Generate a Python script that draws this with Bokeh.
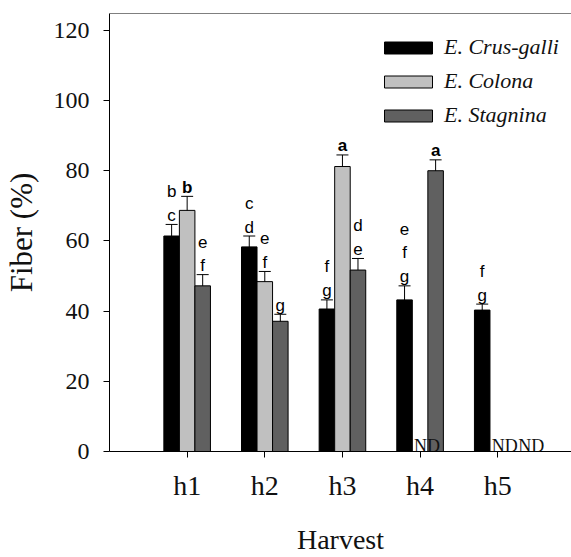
from bokeh.plotting import figure
from bokeh.models import (Range1d, FixedTicker, Whisker, ColumnDataSource, Legend,
                          LegendItem, Span, TeeHead)
from bokeh.core.properties import value
from bokeh.embed import file_html
from bokeh.resources import INLINE

# ---------------- data ----------------
harvests = ["h1", "h2", "h3", "h4", "h5"]
series_names = ["E. Crus-galli", "E. Colona", "E. Stagnina"]
crus_galli = [61.4, 58.3, 40.6, 43.2, 40.3]
crus_galli_err = [3.3, 3.1, 2.6, 4.0, 1.7]
colona = [68.7, 48.4, 81.2, None, None]
colona_err = [4.0, 2.9, 3.3, None, None]
stagnina = [47.2, 37.1, 51.7, 80.0, None]
stagnina_err = [3.2, 2.0, 3.3, 3.1, None]
# significance letters (top to bottom)
crus_galli_letters = ["bc", "cd", "fg", "efg", "fg"]
colona_letters = ["b", "ef", "a", "", ""]
stagnina_letters = ["ef", "g", "de", "a", ""]
colona_bold = [True, False, True, False, False]
stagnina_bold = [False, False, False, True, False]
crus_galli_bold = [False, False, False, False, False]
y_ticks = [0, 20, 40, 60, 80, 100, 120]

values = [crus_galli, colona, stagnina]
errors = [crus_galli_err, colona_err, stagnina_err]
letters = [crus_galli_letters, colona_letters, stagnina_letters]
bolds = [crus_galli_bold, colona_bold, stagnina_bold]
colors = ["#000000", "#c0c0c0", "#606060"]
offsets = [-0.2, 0.0, 0.2]
nd_xoff = [0, 7, 18]
BAR_W = 0.2

p = figure(width=571, height=557, output_backend="svg", toolbar_location=None,
           x_range=Range1d(0.0, 5.95), y_range=Range1d(0, 124.8))
p.min_border_left = 107
p.min_border_top = 13
p.min_border_right = 0
p.min_border_bottom = 104
p.outline_line_color = None
p.xgrid.visible = False
p.ygrid.visible = False
p.background_fill_color = "white"
p.border_fill_color = "white"

# top border of frame
p.add_layout(Span(location=124.8, dimension="width", line_color="black", line_width=1))

legend_items = []
nd_sets = []
for i in range(3):
    xs, tops, ups, lows = [], [], [], []
    tx, ty, tt, toff, tstyle = [], [], [], [], []
    ndx = []
    for j, v in enumerate(values[i]):
        x = j + 1 + offsets[i]
        if v is None:
            ndx.append(x)
            continue
        e = errors[i][j]
        xs.append(x); tops.append(v); ups.append(v + e); lows.append(v - e)
        lt = letters[i][j]
        n = len(lt)
        for k, ch in enumerate(lt):
            level = n - 1 - k
            tx.append(x); ty.append(v + e); tt.append(ch)
            toff.append(-(9 + 24 * level))
            tstyle.append("bold" if bolds[i][j] else "normal")
    src = ColumnDataSource(dict(x=xs, top=tops, upper=ups, lower=lows))
    r = p.vbar(x="x", top="top", bottom=0, width=BAR_W, source=src,
               fill_color=colors[i], line_color="black", line_width=1)
    legend_items.append(LegendItem(label=series_names[i], renderers=[r]))
    w = Whisker(base="x", upper="upper", lower="lower", source=src, dimension="height",
                line_color="black", line_width=1,
                upper_head=TeeHead(size=12, line_color="black", line_width=1),
                lower_head=TeeHead(size=12, line_color="black", line_width=1))
    p.add_layout(w)
    tsrc = ColumnDataSource(dict(x=tx, y=ty, text=tt, yo=toff, fs=tstyle))
    p.text(x="x", y="y", text="text", y_offset="yo", text_font_style="fs", source=tsrc,
           text_font=value("Liberation Sans"), text_font_size="17px",
           text_align="center", text_baseline="alphabetic", text_color="#000000")
    if ndx:
        nd_sets.append((ndx, nd_xoff[i]))

# "ND" labels drawn after all bars
for ndx, xo in nd_sets:
    p.text(x=ndx, y=[0] * len(ndx), text=["ND"] * len(ndx), x_offset=xo,
           y_offset=-6, text_font=value("Liberation Serif"), text_font_size="18px",
           text_align="center", text_baseline="alphabetic", text_color="#111111")

legend = Legend(items=legend_items, location=(269, 323), padding=0, margin=0,
                spacing=8, glyph_width=60, glyph_height=15, label_standoff=6,
                label_text_font="Liberation Serif", label_text_font_size="22px",
                label_text_font_style="italic", label_text_color="#111111",
                border_line_color=None, background_fill_alpha=0)
p.add_layout(legend)

# axes
p.xaxis.ticker = FixedTicker(ticks=[1, 2, 3, 4, 5])
p.xaxis.major_label_overrides = {j + 1: h for j, h in enumerate(harvests)}
p.yaxis.ticker = FixedTicker(ticks=y_ticks)
for ax in (p.xaxis, p.yaxis):
    ax.major_tick_in = 0
    ax.major_tick_out = 6
    ax.minor_tick_line_color = None
    ax.axis_line_color = "black"
    ax.major_tick_line_color = "black"
    ax.major_label_text_font = "Liberation Serif"
    ax.major_label_text_color = "#111111"
    ax.axis_label_text_font = "Liberation Serif"
    ax.axis_label_text_font_style = "normal"
    ax.axis_label_text_color = "#111111"
p.xaxis.major_label_text_font_size = "28px"
p.yaxis.major_label_text_font_size = "24px"
p.xaxis.major_label_standoff = 12
p.yaxis.major_label_standoff = 14
p.xaxis.axis_label = "Harvest"
p.yaxis.axis_label = "Fiber (%)"
p.xaxis.axis_label_text_font_size = "28px"
p.yaxis.axis_label_text_font_size = "31px"
p.xaxis.axis_label_standoff = 20
p.yaxis.axis_label_standoff = 12

open("out.html", "w").write(file_html(p, INLINE))
